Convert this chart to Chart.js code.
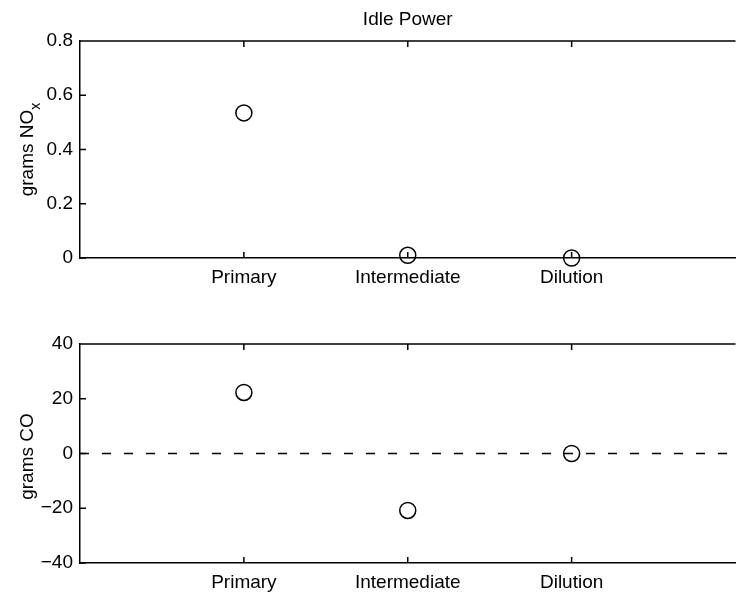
<!DOCTYPE html>
<html>
<head>
<meta charset="utf-8">
<script src="https://cdn.jsdelivr.net/npm/chart.js@4/dist/chart.umd.min.js"></script>
<style>
html, body { margin: 0; padding: 0; background: #fff; overflow: hidden; }
#wrap { position: relative; width: 737px; height: 593px; overflow: hidden; }
canvas { position: absolute; left: 0; }
#noxChart { top: 0; }
#coChart { top: 300px; }
</style>
</head>
<body>
<div id="wrap">
<canvas id="noxChart" width="745" height="300"></canvas>
<canvas id="coChart" width="745" height="293"></canvas>
</div>
<script>
// data
var categories = ['Primary', 'Intermediate', 'Dilution'];
var noxValues = [0.535, 0.01, 0.0];
var coValues = [22.3, -20.8, 0.0];
var noxTicks = [0, 0.2, 0.4, 0.6, 0.8];
var coTicks = [-40, -20, 0, 20, 40];
var coReference = 0;

var xMin = 0, xMax = categories.length + 1;
var FONT = '"Liberation Sans", Arial, Helvetica, sans-serif';

Chart.defaults.font.family = FONT;
Chart.defaults.font.size = 19;
Chart.defaults.color = '#000';

function points(values) {
    return values.map(function (v, i) { return { x: i + 1, y: v }; });
}

function fmt(v) {
    return v < 0 ? '\u2212' + String(-v) : String(v);
}

// MATLAB style box: top line, inward ticks, y label with optional subscript
var framePlugin = {
    id: 'frame',
    beforeDatasetsDraw: function (chart, args, opts) {
        var ctx = chart.ctx, a = chart.chartArea;
        var xs = chart.scales.x, ys = chart.scales.y;
        ctx.save();
        ctx.strokeStyle = '#000';
        ctx.lineWidth = 1.5;
        ctx.beginPath();
        ctx.moveTo(a.left, a.top);
        ctx.lineTo(a.right, a.top);
        xs.ticks.forEach(function (t) {
            var px = xs.getPixelForValue(t.value);
            ctx.moveTo(px, a.top);
            ctx.lineTo(px, a.top + 6);
            ctx.moveTo(px, a.bottom);
            ctx.lineTo(px, a.bottom - 6);
        });
        ys.ticks.forEach(function (t) {
            var py = ys.getPixelForValue(t.value);
            ctx.moveTo(a.left, py);
            ctx.lineTo(a.left + 6, py);
        });
        ctx.stroke();

        // y axis label
        var main = opts.label, sub = opts.sub || '';
        ctx.fillStyle = '#000';
        ctx.font = '19px ' + FONT;
        var wMain = ctx.measureText(main).width;
        ctx.font = '14px ' + FONT;
        var wSub = ctx.measureText(sub).width;
        var total = wMain + wSub;
        ctx.translate(33, (a.top + a.bottom) / 2 + (opts.shift || 0));
        ctx.rotate(-Math.PI / 2);
        ctx.textAlign = 'left';
        ctx.textBaseline = 'alphabetic';
        ctx.font = '19px ' + FONT;
        ctx.fillText(main, -total / 2, 0);
        if (sub) {
            ctx.font = '14px ' + FONT;
            ctx.fillText(sub, -total / 2 + wMain, 7);
        }
        ctx.restore();
    }
};

function makeOptions(yTicks, xHeight, label, extra) {
    var o = {
        responsive: false,
        animation: false,
        layout: { padding: { left: 0, right: 1, top: 0, bottom: 0 } },
        plugins: {
            legend: { display: false },
            tooltip: { enabled: false },
            title: { display: false },
            frame: label
        },
        scales: {
            x: {
                type: 'linear',
                min: xMin,
                max: xMax,
                grid: { display: false, drawTicks: false },
                border: { display: true, color: '#000', width: 1.5 },
                afterBuildTicks: function (s) {
                    s.ticks = categories.map(function (c, i) { return { value: i + 1 }; });
                },
                afterFit: function (s) { s.height = xHeight; },
                ticks: {
                    padding: 8,
                    maxRotation: 0,
                    callback: function (v) { return categories[v - 1] || ''; }
                }
            },
            y: {
                min: yTicks[0],
                max: yTicks[yTicks.length - 1],
                grid: { display: false, drawTicks: false },
                border: { display: true, color: '#000', width: 1.5 },
                afterBuildTicks: function (s) {
                    s.ticks = yTicks.map(function (v) { return { value: v }; });
                },
                afterFit: function (s) { s.width = 80; },
                ticks: {
                    padding: 7,
                    callback: function (v) { return fmt(v); }
                }
            }
        }
    };
    if (extra) extra(o);
    return o;
}

var markerStyle = {
    showLine: false,
    pointStyle: 'circle',
    pointRadius: 8,
    pointBorderWidth: 1.5,
    pointBorderColor: '#000',
    pointBackgroundColor: 'rgba(0,0,0,0)',
    clip: false
};

new Chart(document.getElementById('noxChart').getContext('2d'), {
    type: 'scatter',
    data: {
        datasets: [Object.assign({ label: 'NOx', data: points(noxValues) }, markerStyle)]
    },
    options: makeOptions(noxTicks, 42, { label: 'grams NO', sub: 'x' }, function (o) {
        o.plugins.title = {
            display: true,
            text: 'Idle Power',
            fullSize: false,
            color: '#000',
            font: { size: 19, weight: 'normal' },
            padding: { top: 8, bottom: 10.2 }
        };
    }),
    plugins: [framePlugin]
});

new Chart(document.getElementById('coChart').getContext('2d'), {
    type: 'scatter',
    data: {
        datasets: [
            Object.assign({ label: 'CO', data: points(coValues) }, markerStyle),
            {
                label: 'zero',
                data: [{ x: xMin, y: coReference }, { x: xMax, y: coReference }],
                showLine: true,
                borderColor: '#000',
                borderWidth: 1.4,
                borderDash: [9, 13],
                pointRadius: 0
            }
        ]
    },
    options: makeOptions(coTicks, 30, { label: 'grams CO', shift: 3 }, function (o) {
        o.layout.padding.top = 44;
    }),
    plugins: [framePlugin]
});
</script>
</body>
</html>
